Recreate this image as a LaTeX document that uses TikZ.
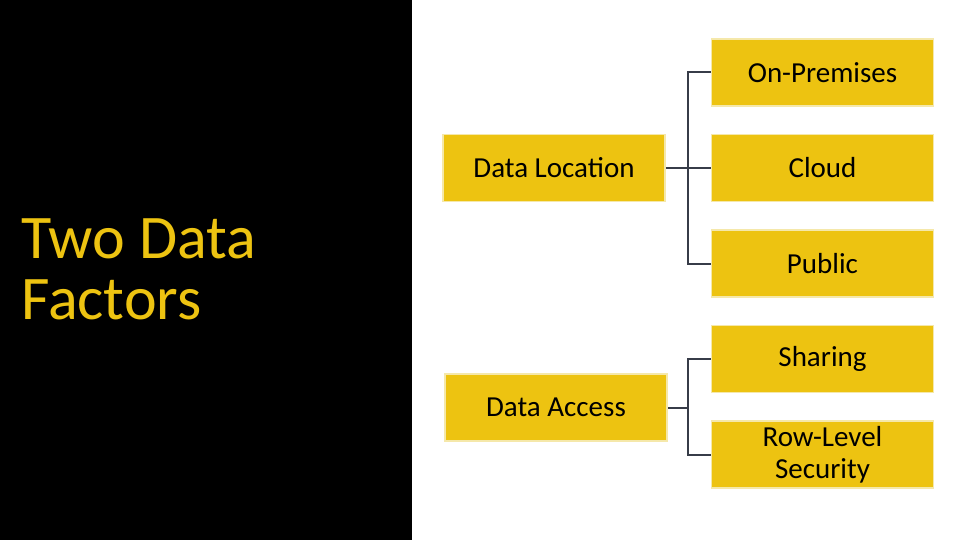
\documentclass[tikz,border=0pt]{standalone}
\usepackage{fontspec}
\setmainfont{Carlito}
\usetikzlibrary{positioning,calc}
\definecolor{gold}{RGB}{237,195,17}
\definecolor{paleedge}{RGB}{245,232,170}
\definecolor{slate}{RGB}{55,60,72}

\begin{document}
\begin{tikzpicture}[
    x=1pt, y=-1pt,
    box/.style={fill=gold, draw=paleedge, line width=1.5pt, minimum width=222pt, minimum height=67pt,
      inner sep=2pt, align=center, font=\fontsize{29}{32}\selectfont},
    link/.style={draw=slate, line width=2pt},
    heading/.style={text=gold, align=left, inner sep=0pt, font=\fontsize{62}{61}\selectfont}
  ]
    \fill[white] (0,0) rectangle (960,540);
    \fill[black] (0,0) rectangle (412,540);
    \useasboundingbox (0,0) rectangle (960,540);

    \node[heading, anchor=north west] (title) at (21,219) {Two Data\\Factors};

    \node[box] (onprem) at (822.5,72.5) {On-Premises};
    \node[box, below=27pt of onprem] (cloud) {Cloud};
    \node[box, below=27pt of cloud] (public) {Public};
    \node[box, below=27pt of public] (sharing) {Sharing};
    \node[box, below=27pt of sharing] (rls) {Row-Level\\Security};
    \node[box, left=45pt of cloud] (loc) {Data Location};
    \node[box] (acc) at (556,407.5) {Data Access};

    % location branch
    \draw[link] (onprem.west) -- ++(-22.5pt,0) |- (public.west);
    \draw[link] (loc.east) -- (cloud.west);
    % access branch
    \coordinate (accjoin) at ($(acc.east)!.5!(sharing.west |- acc.east)$);
    \draw[link] (sharing.west) -- ++(-22.5pt,0) |- (rls.west);
    \draw[link] (acc.east) -- (accjoin);
  \end{tikzpicture}
\end{document}
